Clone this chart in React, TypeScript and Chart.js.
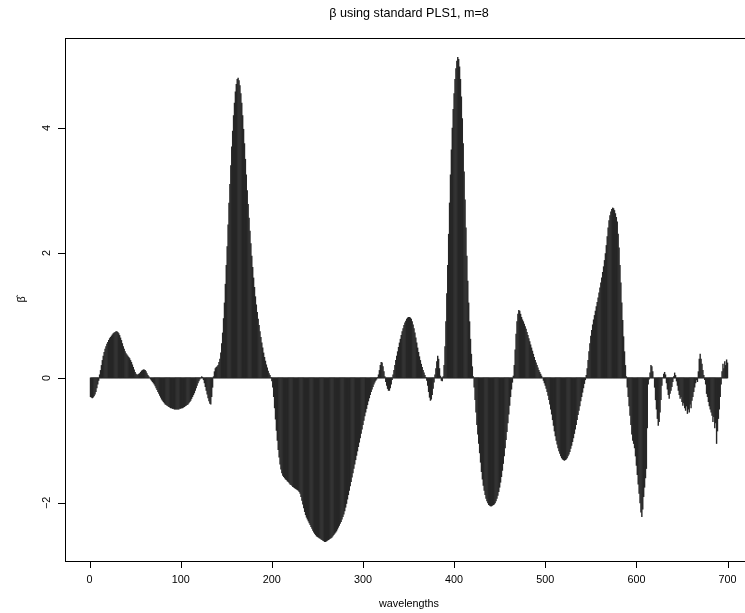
import { useEffect, useRef } from "react";
import { Chart, registerables } from "chart.js";

Chart.register(...registerables);

const chartTitle = "β using standard PLS1, m=8";
const xTitle = "wavelengths";
const yTitle = "β̂";
const xTicks = [0, 100, 200, 300, 400, 500, 600, 700];
const yTicks = [-2, 0, 2, 4];

// regression coefficients, one per wavelength 1..700
const beta = [
  -0.30, -0.31, -0.32, -0.31, -0.29, -0.26, -0.22, -0.16, -0.1, -0.04,
  0.05, 0.12, 0.2, 0.28, 0.35, 0.41, 0.46, 0.5, 0.54, 0.57,
  0.6, 0.63, 0.65, 0.67, 0.69, 0.71, 0.72, 0.73, 0.74, 0.74,
  0.73, 0.71, 0.68, 0.64, 0.6, 0.55, 0.5, 0.46, 0.42, 0.39,
  0.37, 0.35, 0.33, 0.31, 0.28, 0.25, 0.21, 0.17, 0.13, 0.09,
  0.06, 0.05, 0.05, 0.06, 0.07, 0.09, 0.11, 0.12, 0.13, 0.13,
  0.12, 0.1, 0.07, 0.04, 0.02, 0.0, -0.02, -0.04, -0.06, -0.08,
  -0.1, -0.13, -0.16, -0.19, -0.22, -0.25, -0.28, -0.31, -0.34, -0.36,
  -0.38, -0.4, -0.42, -0.43, -0.44, -0.45, -0.46, -0.47, -0.48, -0.48,
  -0.49, -0.49, -0.5, -0.5, -0.5, -0.5, -0.5, -0.5, -0.49, -0.49,
  -0.48, -0.48, -0.47, -0.46, -0.45, -0.44, -0.43, -0.42, -0.4, -0.38,
  -0.36, -0.33, -0.3, -0.27, -0.24, -0.2, -0.16, -0.12, -0.08, -0.05,
  -0.02, 0.0, 0.02, 0.01, -0.03, -0.08, -0.14, -0.2, -0.26, -0.32,
  -0.37, -0.41, -0.42, -0.3, -0.15, 0.02, 0.1, 0.15, 0.17, 0.18,
  0.2, 0.25, 0.3, 0.4, 0.55, 0.72, 0.95, 1.2, 1.5, 1.8,
  2.1, 2.45, 2.8, 3.1, 3.4, 3.7, 3.95, 4.2, 4.4, 4.58,
  4.7, 4.78, 4.8, 4.76, 4.68, 4.55, 4.4, 4.2, 3.98, 3.75,
  3.5, 3.25, 3.0, 2.78, 2.56, 2.35, 2.15, 1.95, 1.77, 1.6,
  1.45, 1.3, 1.17, 1.05, 0.94, 0.84, 0.74, 0.65, 0.56, 0.48,
  0.4, 0.33, 0.27, 0.21, 0.16, 0.11, 0.07, 0.04, 0.01, -0.05,
  -0.15, -0.3, -0.48, -0.66, -0.84, -1.0, -1.15, -1.27, -1.38, -1.46,
  -1.52, -1.56, -1.58, -1.6, -1.62, -1.63, -1.65, -1.66, -1.68, -1.7,
  -1.71, -1.72, -1.74, -1.75, -1.76, -1.77, -1.78, -1.79, -1.8, -1.82,
  -1.85, -1.9, -1.96, -2.02, -2.08, -2.14, -2.19, -2.23, -2.26, -2.29,
  -2.32, -2.35, -2.38, -2.41, -2.44, -2.47, -2.49, -2.51, -2.53, -2.54,
  -2.55, -2.56, -2.57, -2.58, -2.59, -2.6, -2.61, -2.62, -2.62, -2.61,
  -2.6, -2.59, -2.58, -2.57, -2.56, -2.55, -2.53, -2.51, -2.49, -2.47,
  -2.45, -2.42, -2.39, -2.36, -2.33, -2.3, -2.26, -2.22, -2.18, -2.13,
  -2.07, -2.01, -1.94, -1.87, -1.8, -1.73, -1.66, -1.59, -1.52, -1.45,
  -1.38, -1.31, -1.24, -1.17, -1.1, -1.03, -0.96, -0.89, -0.82, -0.75,
  -0.68, -0.61, -0.55, -0.49, -0.43, -0.37, -0.32, -0.27, -0.22, -0.18,
  -0.14, -0.1, -0.07, -0.04, -0.02, 0.01, 0.05, 0.12, 0.2, 0.25,
  0.24, 0.18, 0.1, 0.02, -0.06, -0.12, -0.17, -0.2, -0.2, -0.16,
  -0.1, -0.03, 0.05, 0.12, 0.2, 0.28, 0.35, 0.42, 0.49, 0.56,
  0.62, 0.68, 0.74, 0.79, 0.84, 0.88, 0.91, 0.94, 0.96, 0.97,
  0.97, 0.96, 0.94, 0.9, 0.85, 0.79, 0.72, 0.64, 0.56, 0.48,
  0.41, 0.34, 0.28, 0.22, 0.17, 0.12, 0.08, 0.04, 0.01, -0.04,
  -0.12, -0.22, -0.31, -0.36, -0.34, -0.27, -0.17, -0.07, 0.05, 0.15,
  0.26, 0.35, 0.3, 0.15, 0.03, -0.04, -0.05, 0.02, 0.2, 0.5,
  0.9, 1.35, 1.8, 2.3, 2.8, 3.25, 3.65, 4.0, 4.3, 4.55,
  4.78, 4.95, 5.07, 5.13, 5.1, 4.98, 4.78, 4.5, 4.15, 3.75,
  3.3, 2.85, 2.4, 1.95, 1.55, 1.2, 0.9, 0.62, 0.38, 0.18,
  0.02, -0.15, -0.35, -0.55, -0.75, -0.9, -1.05, -1.2, -1.35, -1.5,
  -1.62, -1.72, -1.8, -1.87, -1.93, -1.97, -2.0, -2.03, -2.04, -2.05,
  -2.05, -2.04, -2.03, -2.02, -2.0, -1.97, -1.93, -1.88, -1.82, -1.75,
  -1.67, -1.58, -1.48, -1.37, -1.25, -1.12, -0.99, -0.86, -0.72, -0.58,
  -0.44, -0.3, -0.18, -0.07, 0.03, 0.2, 0.45, 0.7, 0.9, 1.02,
  1.08, 1.07, 1.02, 0.97, 0.93, 0.9, 0.86, 0.82, 0.78, 0.73,
  0.68, 0.63, 0.58, 0.53, 0.48, 0.43, 0.38, 0.33, 0.28, 0.24,
  0.2, 0.16, 0.12, 0.09, 0.06, 0.03, 0.0, -0.04, -0.08, -0.12,
  -0.17, -0.22, -0.28, -0.35, -0.42, -0.5, -0.58, -0.67, -0.76, -0.85,
  -0.93, -1.0, -1.06, -1.12, -1.17, -1.21, -1.25, -1.28, -1.3, -1.31,
  -1.32, -1.31, -1.3, -1.28, -1.25, -1.22, -1.18, -1.13, -1.08, -1.02,
  -0.96, -0.89, -0.82, -0.75, -0.67, -0.59, -0.52, -0.45, -0.37, -0.3,
  -0.23, -0.16, -0.09, -0.03, 0.04, 0.15, 0.28, 0.42, 0.55, 0.67,
  0.76, 0.85, 0.93, 1.0, 1.07, 1.14, 1.21, 1.28, 1.36, 1.44,
  1.52, 1.6, 1.69, 1.78, 1.88, 1.99, 2.12, 2.26, 2.4, 2.52,
  2.6, 2.66, 2.7, 2.72, 2.71, 2.68, 2.63, 2.57, 2.5, 2.3,
  2.08, 1.8, 1.52, 1.2, 0.92, 0.66, 0.42, 0.2, 0.02, -0.15,
  -0.3, -0.45, -0.6, -0.75, -0.9, -1.0, -1.05, -1.12, -1.25, -1.4,
  -1.55, -1.7, -1.85, -2.0, -2.15, -2.22, -2.1, -1.9, -1.75, -1.6,
  -1.45, -0.8, -0.1, -0.02, 0.08, 0.2, 0.18, 0.1, 0.0, -0.15,
  -0.35, -0.5, -0.65, -0.76, -0.7, -0.55, -0.35, -0.12, 0.0, 0.06,
  0.09, 0.05, -0.08, -0.18, -0.27, -0.33, -0.25, -0.2, -0.14, -0.06,
  0.02, 0.08, 0.04, -0.05, -0.12, -0.2, -0.27, -0.33, -0.3, -0.38,
  -0.44, -0.4, -0.48, -0.52, -0.45, -0.57, -0.5, -0.55, -0.42, -0.48,
  -0.36, -0.3, -0.22, -0.15, -0.08, -0.03, -0.06, 0.1, 0.3, 0.38,
  0.3, 0.22, 0.12, 0.04, -0.03, -0.1, -0.25, -0.3, -0.38, -0.45,
  -0.5, -0.55, -0.6, -0.7, -0.62, -0.8, -0.72, -1.05, -0.85, -0.65,
  -0.5, -0.3, -0.1, 0.1, 0.22, 0.15, 0.26, 0.2, 0.29, 0.24,
];

const wavelengths = beta.map((_, i) => i + 1);

const W = 760;
const H = 613;
const FONT = '"Liberation Sans", Arial, Helvetica, sans-serif';

export default function App() {
  const ref = useRef<HTMLCanvasElement | null>(null);

  useEffect(() => {
    const canvas = ref.current;
    if (!canvas) return;
    const xLo = Math.min(...wavelengths);
    const xHi = Math.max(...wavelengths);
    const yLo = Math.min(...beta);
    const yHi = Math.max(...beta);
    const xr = xHi - xLo;
    const yr = yHi - yLo;

    const rAxes = {
      id: "rAxes",
      afterDraw(chart: any) {
        const ctx = chart.ctx as CanvasRenderingContext2D;
        const { left, right, top, bottom } = chart.chartArea;
        const xs = chart.scales.x;
        const ys = chart.scales.y;
        ctx.save();
        ctx.strokeStyle = "#000";
        ctx.lineWidth = 1;
        ctx.strokeRect(Math.round(left) + 0.5, Math.round(top) + 0.5, Math.round(right - left), Math.round(bottom - top));
        ctx.beginPath();
        for (const t of xTicks) {
          const px = Math.round(xs.getPixelForValue(t)) + 0.5;
          ctx.moveTo(px, bottom);
          ctx.lineTo(px, bottom + 7);
        }
        for (const t of yTicks) {
          const py = Math.round(ys.getPixelForValue(t)) + 0.5;
          ctx.moveTo(left, py);
          ctx.lineTo(left - 7, py);
        }
        ctx.stroke();
        ctx.fillStyle = "#000";
        ctx.font = `10.8px ${FONT}`;
        ctx.textAlign = "center";
        ctx.textBaseline = "middle";
        for (const t of xTicks) {
          ctx.fillText(String(t), xs.getPixelForValue(t), bottom + 19);
        }
        for (const t of yTicks) {
          ctx.save();
          ctx.translate(left - 18, ys.getPixelForValue(t));
          ctx.rotate(-Math.PI / 2);
          ctx.fillText(t < 0 ? "\u2212" + Math.abs(t) : String(t), 0, 0);
          ctx.restore();
        }
        const cx = (left + right) / 2;
        ctx.fillText(xTitle, cx, bottom + 43);
        ctx.save();
        ctx.translate(left - 43, (top + bottom) / 2);
        ctx.rotate(-Math.PI / 2);
        ctx.fillText(yTitle, 0, 0);
        ctx.restore();
        ctx.font = `12.6px ${FONT}`;
        ctx.fillText(chartTitle, cx, top - 24);
        ctx.restore();
      },
    };

    const chart = new Chart(canvas, {
      type: "bar",
      data: {
        datasets: [
          {
            type: "line",
            data: [
              { x: xLo, y: 0 },
              { x: xHi, y: 0 },
            ],
            borderColor: "#2a2a2a",
            borderWidth: 0.75,
            pointRadius: 0,
            order: 2,
          } as any,
          {
            type: "bar",
            data: wavelengths.map((w, i) => ({ x: w, y: beta[i] })),
            backgroundColor: "#262626",
            borderWidth: 0,
            barThickness: 0.75,
            grouped: false,
            order: 1,
          } as any,
        ],
      },
      options: {
        animation: false,
        responsive: false,
        devicePixelRatio: 1,
        events: [],
        layout: { padding: { left: 65, top: 38, right: W - 753, bottom: H - 561 } },
        plugins: {
          legend: { display: false },
          tooltip: { enabled: false },
          title: { display: false },
        },
        scales: {
          x: { type: "linear", offset: false, min: xLo - 0.04 * xr, max: xHi + 0.04 * xr, display: false },
          y: { type: "linear", min: yLo - 0.04 * yr, max: yHi + 0.04 * yr, display: false },
        },
      },
      plugins: [rAxes],
    });
    return () => chart.destroy();
  }, []);

  return (
    <div style={{ position: "fixed", left: 0, top: 0, width: 745, height: 613, overflow: "hidden", background: "#fff" }}>
      <canvas ref={ref} width={W} height={H} style={{ display: "block", width: W, height: H }} />
    </div>
  );
}
